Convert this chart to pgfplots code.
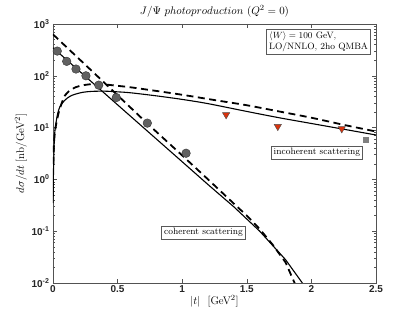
\documentclass[border=0pt]{standalone}
\usepackage{fontspec}
\usepackage{pgfplots}
\pgfplotsset{compat=1.18}
\newfontfamily\tickfont{Liberation Sans}
\definecolor{axgray}{rgb}{0.15,0.15,0.15}
\definecolor{tri}{rgb}{0.85,0.2,0.05}
\begin{document}
\begin{tikzpicture}
\begin{axis}[
  scale only axis, width=323pt, height=259pt,
  ymode=log, xmin=0, xmax=2.5, ymin=0.01, ymax=1000,
  xtick={0,0.5,1,1.5,2,2.5}, xticklabels={0,0.5,1,1.5,2,2.5},
  ytick={0.01,0.1,1,10,100,1000},
  yticklabels={10\textsuperscript{-2},10\textsuperscript{-1},10\textsuperscript{0},10\textsuperscript{1},10\textsuperscript{2},10\textsuperscript{3}},
  tick align=inside, xtick pos=both, ytick pos=both,
  major tick length=4pt, minor tick length=2.2pt,
  axis line style={draw=axgray!80, line width=0.5pt},
  every tick/.style={axgray!80, line width=0.4pt},
  tick label style={font=\tickfont\bfseries\fontsize{10}{11}\selectfont, text=axgray},
  xticklabel style={yshift=1pt},
  title={$J/\Psi\ photoproduction\ (Q^2=0)$},
  title style={font=\fontsize{11}{13}\selectfont, yshift=-3pt},
  xlabel={$|t|$\ \ [GeV$^2$]},
  ylabel={$d\sigma/dt$ [nb/GeV$^2$]},
  label style={font=\fontsize{11}{12}\selectfont},
  xlabel style={yshift=4pt},
  ylabel style={yshift=-2pt},
  clip=true,
]
% coherent, solid
\addplot[black, line width=1.1pt] coordinates {
(0,347) (0.5,27.5) (1.0,2.19) (1.2,0.794) (1.4,0.295) (1.6,0.1) (1.8,0.0282) (1.93,0.01) (1.96,0.008)};
% coherent, dashed
\addplot[black, line width=1.8pt, dash pattern=on 7pt off 4.5pt] coordinates {
(0,630) (0.35,95) (0.73,12) (1.0,2.9) (1.2,1.0) (1.4,0.34) (1.5,0.2) (1.6,0.11) (1.7,0.055) (1.8,0.025) (1.87,0.01) (1.89,0.008)};
% incoherent, solid
\addplot[black, line width=1.1pt, smooth] coordinates {
(0.001,0.35) (0.004,1.5) (0.008,4) (0.012,7) (0.02,11) (0.035,18) (0.054,25.5) (0.093,34) (0.13,40) (0.17,44) (0.23,48) (0.3,50) (0.4,50.5) (0.5,49) (0.6,47) (0.8,41) (1.0,35) (1.2,29) (1.5,20.5) (1.75,15.5) (2.0,12) (2.25,9.3) (2.5,7.2)};
% incoherent, dashed
\addplot[black, line width=1.8pt, dash pattern=on 7pt off 4.5pt, smooth] coordinates {
(0.003,2) (0.006,4) (0.012,7) (0.02,10) (0.03,13.5) (0.05,22) (0.093,42) (0.15,56) (0.21,64) (0.3,69) (0.4,68) (0.5,64) (0.6,60) (0.8,51) (1.0,43) (1.25,34) (1.5,27) (1.75,20.5) (2.0,15.5) (2.25,11.3) (2.5,8.4)};
% coherent data
\addplot[only marks, mark=*, mark size=4.3pt, mark options={fill=black!62, draw=black!80, line width=0.4pt}] coordinates {
(0.033,300) (0.106,190) (0.178,135) (0.255,100) (0.354,66) (0.49,38) (0.73,12.2) (1.03,3.2)};
% incoherent data
\addplot[only marks, mark=triangle*, mark size=4.2pt, mark options={rotate=180, fill=tri, draw=black!70, line width=0.4pt}] coordinates {
(1.34,17.7) (1.74,10.5) (2.235,9.5)};
\addplot[only marks, mark=square*, mark size=2.4pt, mark options={fill=black!50, draw=black!50}] coordinates {
(2.42,5.8)};
\node[draw=black!65, fill=white, line width=0.5pt, inner sep=2.5pt, anchor=north east, align=left, font=\fontsize{9.2}{11}\selectfont] at (axis cs:2.46,800) {$\langle W\rangle = 100$ GeV,\\LO/NNLO, 2ho QMBA};
\node[draw=black!65, fill=white, line width=0.5pt, inner sep=2.5pt, font=\fontsize{9.2}{10}\selectfont] at (axis cs:2.043,3.28) {incoherent scattering};
\node[draw=black!65, fill=white, line width=0.5pt, inner sep=2.5pt, font=\fontsize{9.2}{10}\selectfont] at (axis cs:1.165,0.094) {coherent scattering};
\end{axis}
\path ([xshift=-53pt,yshift=-29pt]current axis.south west) rectangle ([xshift=39pt,yshift=24pt]current axis.north east);
\end{tikzpicture}
\end{document}
